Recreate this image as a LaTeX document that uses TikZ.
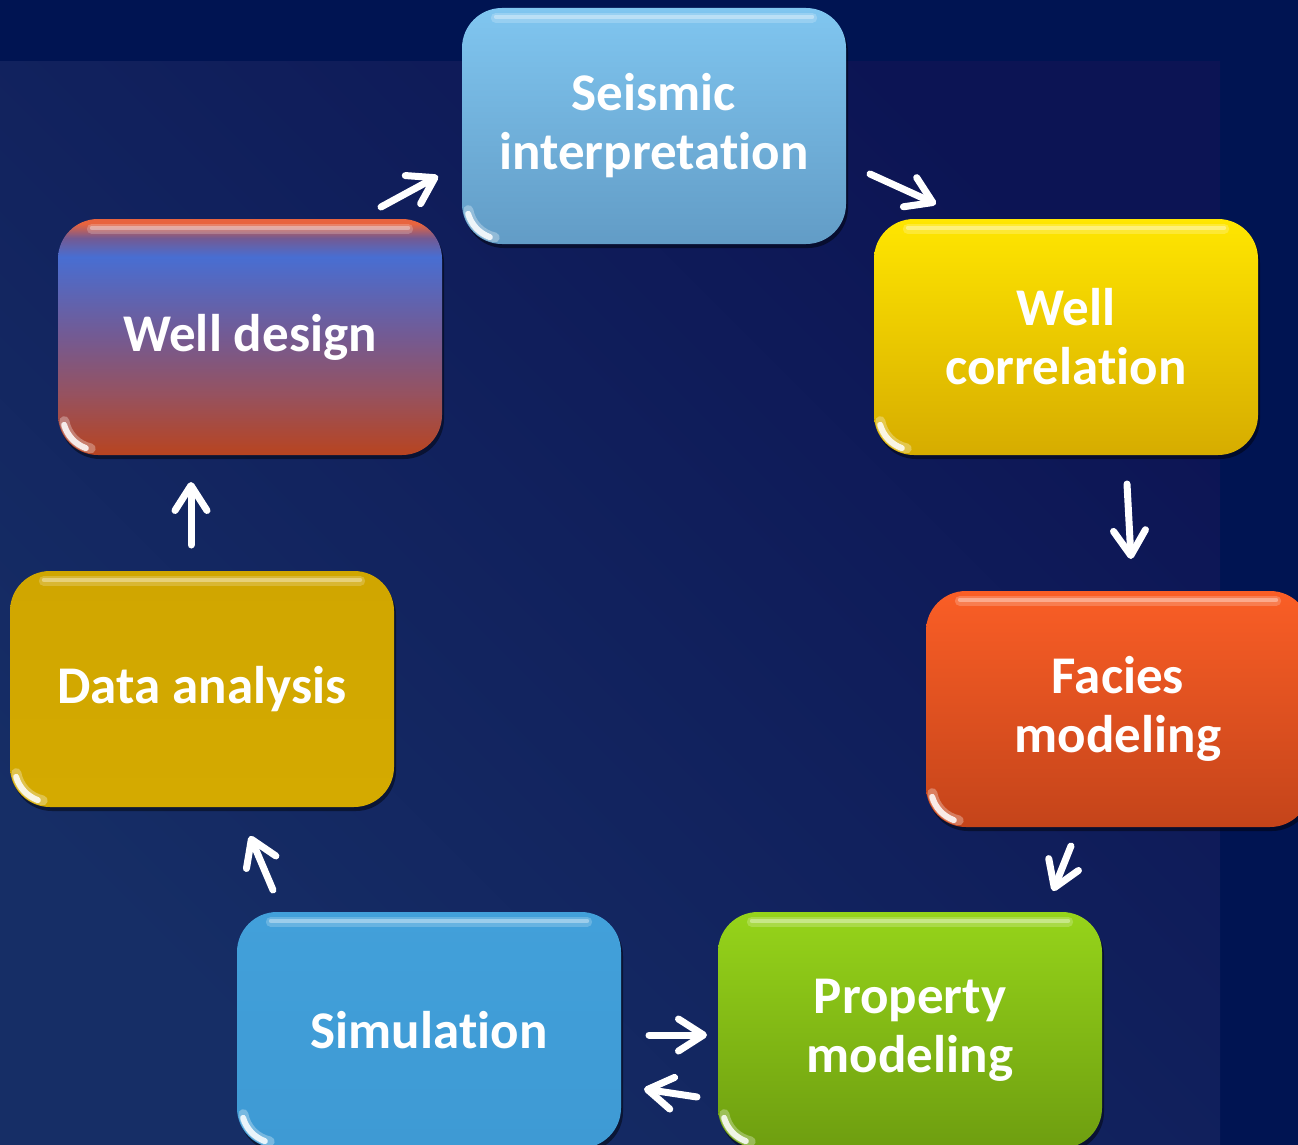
\documentclass[tikz,border=0pt]{standalone}
\usepackage{fontspec}
\setmainfont{Carlito}[Ligatures=NoCommon]
\usetikzlibrary{arrows.meta,shadows}

% background
\definecolor{bgband}{RGB}{0,20,82}
\definecolor{bgA}{RGB}{12,20,84}
\definecolor{bgB}{RGB}{22,46,102}
% box colours
\definecolor{seT}{RGB}{128,198,240}
\definecolor{seB}{RGB}{98,156,198}
\definecolor{wcT}{RGB}{255,230,0}
\definecolor{wcB}{RGB}{214,172,0}
\definecolor{fmT}{RGB}{250,94,38}
\definecolor{fmB}{RGB}{196,68,26}
\definecolor{pmT}{RGB}{150,212,26}
\definecolor{pmB}{RGB}{110,158,16}
\definecolor{siT}{RGB}{66,160,218}
\definecolor{siB}{RGB}{62,154,212}
\definecolor{daT}{RGB}{208,166,0}
\definecolor{daB}{RGB}{212,170,0}
\definecolor{wdA}{RGB}{232,100,62}
\definecolor{wdB}{RGB}{72,110,210}
\definecolor{wdC}{RGB}{116,90,146}
\definecolor{wdD}{RGB}{150,82,96}
\definecolor{wdE}{RGB}{184,68,32}

\pgfdeclareverticalshading{wdshade}{100bp}{%
  color(0bp)=(wdE); color(25bp)=(wdE); color(38bp)=(wdD); color(50bp)=(wdC);
  color(67bp)=(wdB); color(71bp)=(wdC); color(74bp)=(wdA); color(100bp)=(wdA)}

\tikzset{
  box/.style={rounded corners=40pt, minimum width=384pt, minimum height=236pt,
    align=center, text=white, inner sep=0pt,
    font=\fontsize{53pt}{59pt}\selectfont\bfseries,
    drop shadow={shadow xshift=2pt, shadow yshift=-4pt, opacity=0.45, fill=black}},
  flow/.style={white, line width=7pt, line cap=round,
    -{Straight Barb[length=25pt,width=32pt,round]}},
  glosswide/.style={white, opacity=0.2, line width=10pt, line cap=round},
  gloss/.style={white, opacity=0.35, line width=4pt, line cap=round},
  glint/.style={white, opacity=0.85, line width=6pt, line cap=round},
  glintsoft/.style={white, opacity=0.3, line width=10pt, line cap=round}
}

\begin{document}
\begin{tikzpicture}[x=1pt,y=-1pt]
  \useasboundingbox (0,0) rectangle (1298,1145);
  \clip (0,0) rectangle (1298,1145);

  % backdrop
  \fill[bgband] (0,0) rectangle (1298,1145);
  \shade[top color=bgA, bottom color=bgB, shading angle=-45] (0,62) rectangle (1220,1145);

  % process stages
  \node[box, top color=seT, bottom color=seB] (se) at (654,126) {Seismic\\interpretation};
  \node[box, top color=wcT, bottom color=wcB] (wc) at (1066,337) {Well\\correlation};
  \node[box, top color=fmT, bottom color=fmB] (fm) at (1118,709) {Facies\\modeling};
  \node[box, top color=pmT, bottom color=pmB] (pm) at (910,1030) {Property\\modeling};
  \node[box, top color=siT, bottom color=siB] (si) at (429,1030) {Simulation};
  \node[box, top color=daT, bottom color=daB] (da) at (202,689) {Data analysis};
  \node[box, shade, shading=wdshade] (wd) at (250,337) {Well design};

  % glossy highlights on every stage
  \foreach \n in {se,wc,fm,pm,si,da,wd}{
    \draw[glosswide] ([xshift=34pt,yshift=-10pt]\n.north west) -- ([xshift=-34pt,yshift=-10pt]\n.north east);
    \draw[gloss] ([xshift=34pt,yshift=-9pt]\n.north west) -- ([xshift=-34pt,yshift=-9pt]\n.north east);
    \path (\n.south west) ++(40pt,40pt) coordinate (c\n);
    \draw[glintsoft] (c\n) ++(190:34pt) arc[start angle=190,end angle=258,radius=34pt];
    \draw[glint] (c\n) ++(196:35pt) arc[start angle=196,end angle=250,radius=35pt];
  }

  % connector end points
  \coordinate (a1) at (381,207); \coordinate (b1) at (438,176);
  \coordinate (a2) at (870,174); \coordinate (b2) at (936,204);
  \coordinate (a3) at (1127,484); \coordinate (b3) at (1131,559);
  \coordinate (a4) at (1071,846); \coordinate (b4) at (1053,891);
  \coordinate (a5) at (649,1035); \coordinate (b5) at (707,1035);
  \coordinate (a6) at (697,1097); \coordinate (b6) at (644,1089);
  \coordinate (a7) at (273,890); \coordinate (b7) at (250,836);
  \coordinate (a8) at (191,545); \coordinate (b8) at (191,482);

  % cycle connectors
  \draw[flow] (a1) -- (b1);
  \draw[flow] (a2) -- (b2);
  \draw[flow] (a3) -- (b3);
  \draw[flow] (a4) -- (b4);
  \draw[flow] (a5) -- (b5);
  \draw[flow] (a6) -- (b6);
  \draw[flow] (a7) -- (b7);
  \draw[flow] (a8) -- (b8);
\end{tikzpicture}
\end{document}
